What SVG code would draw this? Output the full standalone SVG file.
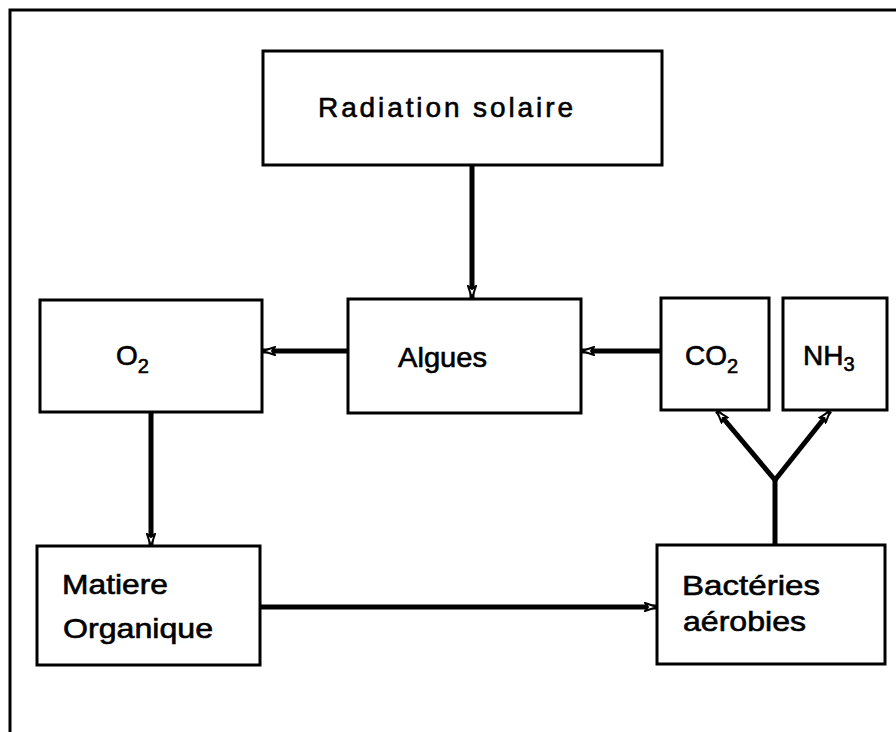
<svg xmlns="http://www.w3.org/2000/svg" width="896" height="732" viewBox="0 0 896 732">
<style>
.box{fill:#fff;stroke:#000;stroke-width:3}
.lbl{font-family:"Liberation Sans",Arial,sans-serif;font-size:28px;fill:#000;stroke:#000;stroke-width:0.6}
.sub{font-size:20px}
.conn{stroke:#000;stroke-width:5;fill:none;stroke-linecap:butt}
</style>
<defs>
<marker id="ah" markerWidth="14" markerHeight="10" refX="13" refY="5" orient="auto" markerUnits="userSpaceOnUse">
<path d="M1,1 L13,5 L1,9 L4,5 Z" fill="#fff" stroke="#000" stroke-width="2"/>
</marker>
</defs>
<rect width="896" height="732" fill="#fff"/>
<g id="frame"><path d="M10,732 L10,10 L896,10" fill="none" stroke="#000" stroke-width="3"/></g>
<g id="radiation"><rect class="box" x="263" y="51" width="399" height="114"/><text class="lbl" x="318" y="117" textLength="255" lengthAdjust="spacing">Radiation solaire</text></g>
<g id="algues"><rect class="box" x="348" y="299" width="233" height="114"/><text class="lbl" x="398" y="367" textLength="89" lengthAdjust="spacingAndGlyphs">Algues</text></g>
<g id="o2"><rect class="box" x="40" y="300" width="222" height="112"/><text class="lbl" x="116" y="365">O<tspan class="sub" dy="8">2</tspan></text></g>
<g id="co2"><rect class="box" x="661" y="298" width="108" height="112"/><text class="lbl" x="685" y="365">CO<tspan class="sub" dy="8">2</tspan></text></g>
<g id="nh3"><rect class="box" x="783" y="298" width="104" height="112"/><text class="lbl" x="803" y="365">NH<tspan class="sub" dy="6">3</tspan></text></g>
<g id="matiere"><rect class="box" x="37" y="546" width="223" height="119"/><text class="lbl" x="62" y="594" textLength="106" lengthAdjust="spacingAndGlyphs">Matiere</text><text class="lbl" x="63" y="638" textLength="150" lengthAdjust="spacingAndGlyphs">Organique</text></g>
<g id="bacteries"><rect class="box" x="657" y="545" width="228" height="119"/><text class="lbl" x="682" y="595" textLength="138" lengthAdjust="spacingAndGlyphs">Bactéries</text><text class="lbl" x="683" y="631" textLength="123" lengthAdjust="spacingAndGlyphs">aérobies</text></g>
<g id="connectors">
<line class="conn" x1="472" y1="165" x2="472" y2="298" marker-end="url(#ah)"/>
<line class="conn" x1="348" y1="351" x2="263" y2="351" marker-end="url(#ah)"/>
<line class="conn" x1="661" y1="351" x2="582" y2="351" marker-end="url(#ah)"/>
<line class="conn" x1="151" y1="412" x2="151" y2="546" marker-end="url(#ah)"/>
<line class="conn" x1="260" y1="607" x2="657" y2="607" marker-end="url(#ah)"/>
<line class="conn" x1="775" y1="545" x2="775" y2="480"/>
<line class="conn" x1="775" y1="480" x2="717" y2="411" marker-end="url(#ah)"/>
<line class="conn" x1="775" y1="480" x2="830" y2="411" marker-end="url(#ah)"/>
</g>
</svg>
